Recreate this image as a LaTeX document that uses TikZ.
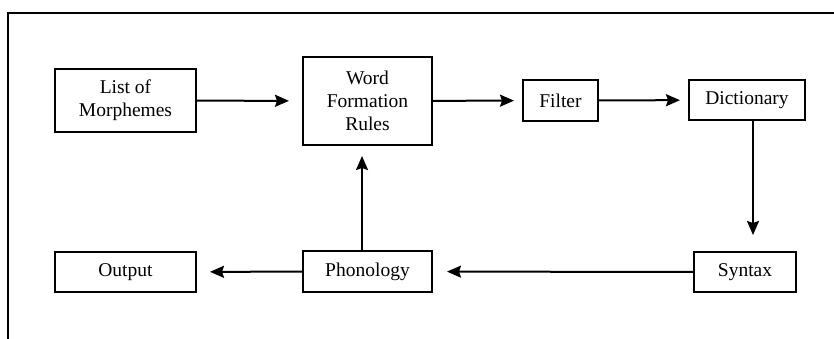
\documentclass[tikz,border=0pt]{standalone}
\usepackage{fontspec}
\setmainfont{Liberation Serif}
\usetikzlibrary{arrows.meta}
\begin{document}
\begin{tikzpicture}[x=1pt,y=1pt,
  box/.style={draw, line width=2pt, align=center, inner sep=0pt,
    font=\fontsize{19.5}{23}\selectfont},
  conn/.style={line width=2pt, -{Stealth[length=14pt,width=12pt,inset=2pt]}},
  frame/.style={line width=2pt}]
\useasboundingbox (0,0) rectangle (834,-338);
\coordinate (ftr) at (834,-12.5);
\coordinate (ftl) at (8,-12.5);
\coordinate (fbl) at (8,-340);
\draw[frame] (ftr) -- (ftl) -- (fbl);
\node[box, minimum width=141pt, minimum height=63pt] (list) at (125.5,-100.5) {List of\\Morphemes};
\node[box, minimum width=129pt, minimum height=88pt] (wfr) at (367.5,-101) {Word\\Formation\\Rules};
\node[box, minimum width=75pt, minimum height=41pt] (filter) at (560.5,-100.5) {Filter};
\node[box, minimum width=116pt, minimum height=40pt] (dict) at (747,-100) {Dictionary};
\node[box, minimum width=102pt, minimum height=40pt] (syntax) at (745,-272) {Syntax};
\node[box, minimum width=129pt, minimum height=41pt] (phon) at (367.5,-271.5) {Phonology};
\node[box, minimum width=141pt, minimum height=40pt] (output) at (125.5,-272) {Output};
\draw[conn, shorten >=13pt] (list) -- (wfr);
\draw[conn, shorten >=8pt] (wfr) -- (filter);
\draw[conn, shorten >=8pt] (filter) -- (dict);
\draw[conn, shorten >=16pt] ([xshift=6pt]dict.south) -- ([xshift=6pt]dict.south |- syntax.north);
\draw[conn, shorten >=14pt] (syntax) -- (phon);
\draw[conn, shorten >=13pt] (phon) -- (output);
\draw[conn, shorten >=10pt] ([xshift=-5.5pt]phon.north) -- ([xshift=-5.5pt]phon.north |- wfr.south);
\end{tikzpicture}
\end{document}
